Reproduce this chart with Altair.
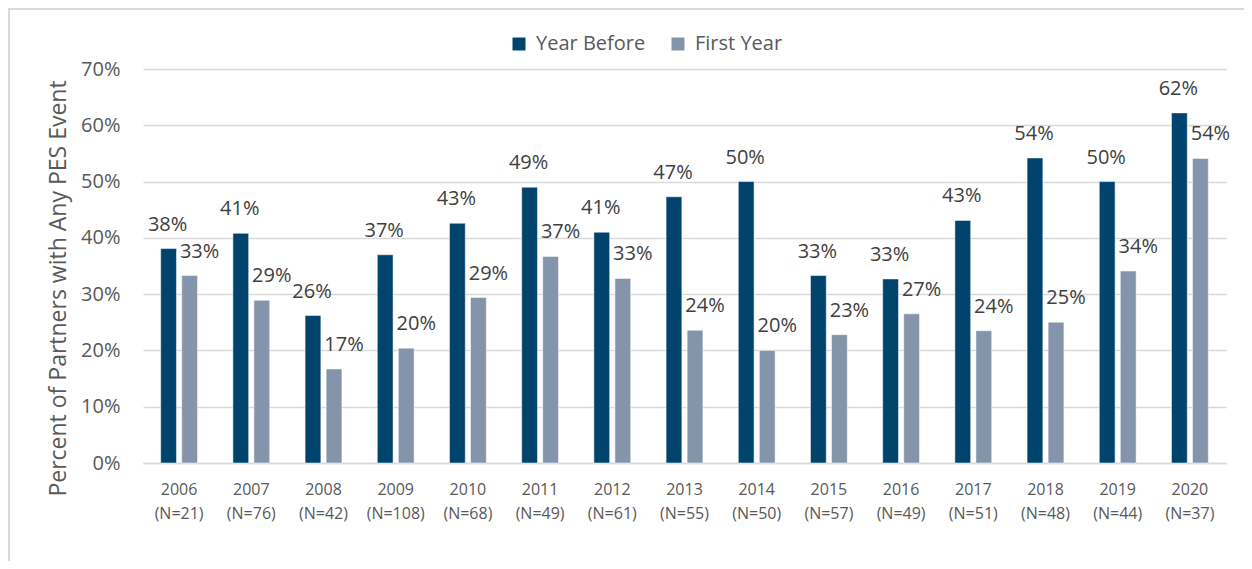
import altair as alt
import pandas as pd

years = ["2006", "2007", "2008", "2009", "2010", "2011", "2012", "2013",
         "2014", "2015", "2016", "2017", "2018", "2019", "2020"]
n_values = [21, 76, 42, 108, 68, 49, 61, 55, 50, 57, 49, 51, 48, 44, 37]
year_before = [38.1, 40.8, 26.2, 37.0, 42.6, 49.0, 41.0, 47.3, 50.0, 33.3,
               32.7, 43.1, 54.2, 50.0, 62.2]
first_year = [33.3, 28.9, 16.7, 20.4, 29.4, 36.7, 32.8, 23.6, 20.0, 22.8,
              26.5, 23.5, 25.0, 34.1, 54.1]
series = ["Year Before", "First Year"]
colors = ["#00446E", "#8494AA"]
y_ticks = [0, 0.1, 0.2, 0.3, 0.4, 0.5, 0.6, 0.7]

FONT = "Open Sans"

rows = []
cats = []
for i, yr in enumerate(years):
    cat = f"{yr}|(N={n_values[i]})"
    cats.append(cat)
    rows.append({"cat": cat, "series": series[0], "value": year_before[i] / 100})
    rows.append({"cat": cat, "series": series[1], "value": first_year[i] / 100})
df = pd.DataFrame(rows)

x_enc = alt.X(
    "cat:N", sort=cats,
    scale=alt.Scale(paddingInner=0.49, paddingOuter=0.245),
    axis=alt.Axis(
        title=None, labelExpr="split(datum.label, '|')", labelAngle=0,
        labelFontSize=16, labelLineHeight=24, labelColor="#595959",
        labelFont=FONT, ticks=False, domainColor="#D9D9D9", domainWidth=1.5,
        labelPadding=18, labelBaseline="top",
    ),
)
xoff_enc = alt.XOffset("series:N", sort=series,
                       scale=alt.Scale(paddingInner=0.25, paddingOuter=0))
y_enc = alt.Y(
    "value:Q", scale=alt.Scale(domain=[0, 0.7]),
    axis=alt.Axis(
        format=".0%", values=y_ticks, title="Percent of Partners with Any PES Event",
        grid=True, gridColor="#D9D9D9", gridWidth=1.5, domain=False, ticks=False,
        labelFontSize=20, labelColor="#595959", labelFont=FONT, labelPadding=23,
        titleFontSize=23, titleColor="#595959", titleFont=FONT,
        titleFontWeight="normal", titleX=-85, titleY=219,
        titleAlign="center", titleBaseline="middle", titleAngle=270,
    ),
)

base = alt.Chart(df)

bars = base.mark_bar(stroke="white", strokeWidth=0.5).encode(
    x=x_enc, xOffset=xoff_enc, y=y_enc,
    color=alt.Color(
        "series:N", sort=series,
        scale=alt.Scale(domain=series, range=colors),
        legend=alt.Legend(
            title=None, orient="none", legendX=366, legendY=-35,
            direction="horizontal", symbolType="square", symbolSize=169,
            symbolStrokeWidth=0, labelFontSize=20, labelColor="#595959",
            labelFont=FONT, columnPadding=22, labelOffset=7,
        ),
    ),
)


def label_layer(name, shift):
    return base.transform_filter(alt.datum.series == name).mark_text(
        baseline="alphabetic", dy=-18, dx=shift, fontSize=20,
        color="#404040", font=FONT,
    ).encode(
        x=alt.X("cat:N", sort=cats),
        xOffset=alt.XOffset("series:N", sort=series),
        y=alt.Y("value:Q"),
        text=alt.Text("value:Q", format=".0%"),
    )


labels_before = label_layer(series[0], -1)
labels_first = label_layer(series[1], 10)

frame = alt.Chart(pd.DataFrame({"a": [0]})).mark_rect(
    fill="transparent", stroke="#D9D9D9", strokeWidth=2
).encode(
    x=alt.value(-134), x2=alt.value(1300),
    y=alt.value(-60), y2=alt.value(700),
)

chart = alt.layer(frame, bars, labels_before, labels_first).properties(
    width=1083, height=394,
    autosize=alt.AutoSizeParams(type="none"),
    padding={"left": 135, "top": 61, "right": 18, "bottom": 98},
).configure(font=FONT).configure_view(strokeWidth=0, stroke="transparent")

chart.save("out.html", embed_options={"renderer": "svg", "actions": False})
